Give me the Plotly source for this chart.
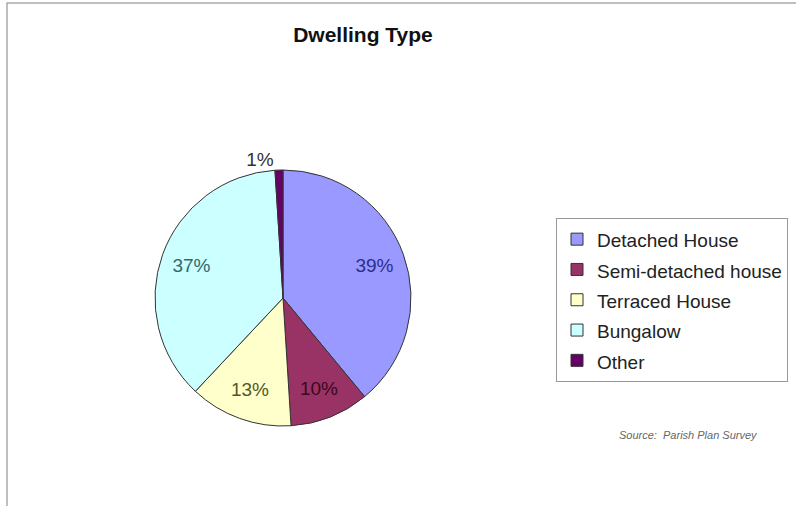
import plotly.graph_objects as go

labels = ["Detached House", "Semi-detached house", "Terraced House", "Bungalow", "Other"]
values = [39, 10, 13, 37, 1]
colors = ["#9999FF", "#993366", "#FFFFCC", "#CCFFFF", "#660066"]
text_colors = ["#2e2e8a", "#3a0a1e", "#55552a", "#2f6b6b", "#333333"]
positions = ["inside", "inside", "inside", "inside", "outside"]

W, H = 796, 506
cx, cy, r = 283, 298, 128
FONT = "Liberation Sans, Arial"
domain = dict(x=[(cx - r) / W, (cx + r) / W], y=[(H - cy - r) / H, (H - cy + r) / H])

legend_labels = [f"<span style='font-size:19px'>{l}</span>" for l in labels]

# filled pie (legend entries)
fig = go.Figure(go.Pie(
    labels=legend_labels,
    values=values,
    sort=False,
    direction="clockwise",
    rotation=0,
    marker=dict(colors=colors, line=dict(color="#333333", width=1)),
    textinfo="none",
    hoverinfo="skip",
    domain=domain,
))

# transparent ring carrying the percentage labels further out, as in the original
fig.add_trace(go.Pie(
    labels=legend_labels,
    values=values,
    sort=False,
    direction="clockwise",
    rotation=0,
    hole=0.52,
    showlegend=False,
    marker=dict(colors=["rgba(0,0,0,0)"] * len(values), line=dict(width=0)),
    texttemplate="%{percent:.0%}",
    textposition=positions,
    insidetextorientation="horizontal",
    textfont=dict(family=FONT, size=19, color=text_colors),
    outsidetextfont=dict(family=FONT, size=19, color="#333333"),
    hoverinfo="skip",
    domain=domain,
))

fig.update_layout(
    width=W, height=H,
    margin=dict(l=0, r=0, t=0, b=0),
    paper_bgcolor="white",
    plot_bgcolor="white",
    title=dict(text="<b>Dwelling Type</b>", x=363 / W, xanchor="center",
               y=1 - 35 / H, yanchor="middle",
               font=dict(family=FONT, size=21, color="#111111")),
    legend=dict(x=556 / W, y=1 - 218 / H, xanchor="left", yanchor="top",
                bordercolor="#999999", borderwidth=1, bgcolor="white",
                font=dict(family=FONT, size=21, color="#222222"),
                traceorder="normal"),
    showlegend=True,
    annotations=[dict(text="<i>Source:  Parish Plan Survey</i>", x=688 / W, y=1 - 435 / H,
                      xref="paper", yref="paper", xanchor="center", yanchor="middle",
                      showarrow=False,
                      font=dict(family=FONT, size=11, color="#666666"))],
    shapes=[dict(type="rect", xref="paper", yref="paper", x0=7 / W, x1=1.05, y0=-0.05, y1=1 - 3 / H,
                 line=dict(color="#aaaaaa", width=1.5), layer="below")],
)

fig.write_html("out.html", config={"displayModeBar": False},
               post_script="document.body.style.margin='0';")
